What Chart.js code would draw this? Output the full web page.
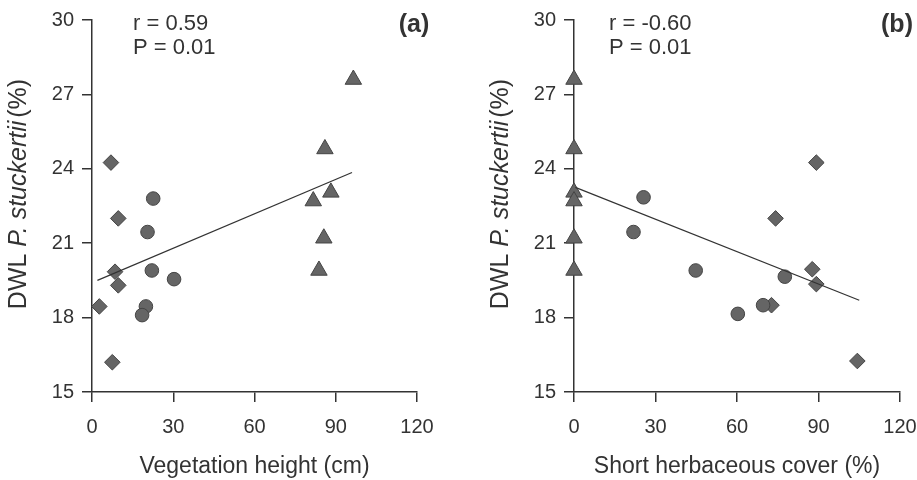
<!DOCTYPE html>
<html>
<head>
<meta charset="utf-8">
<script src="https://cdn.jsdelivr.net/npm/chart.js@4.4.1/dist/chart.umd.min.js"></script>
<style>
  html, body { margin: 0; padding: 0; background: #fff; overflow: hidden; }
  .panel { position: absolute; top: 0; height: 480px; }
  #pa { left: 0; width: 460px; }
  #pb { left: 482px; width: 435px; }
</style>
</head>
<body>
<div class="panel" id="pa"><canvas id="chart-a"></canvas></div>
<div class="panel" id="pb"><canvas id="chart-b"></canvas></div>
<script>
// axis ticks
const xTicks = [0, 30, 60, 90, 120];
const yTicks = [15, 18, 21, 24, 27, 30];

// DWL P. stuckertii (%) per site, same for both panels
const triY     = [27.6, 24.8, 23.05, 22.7, 21.2, 19.9];
const circleY  = [22.8, 21.45, 19.9, 19.55, 18.45, 18.1];
const diamondY = [24.25, 22.0, 19.85, 19.3, 18.45, 16.2];

// (a) vegetation height (cm)
const aTriX     = [96.5, 86, 88.2, 81.7, 85.6, 83.8];
const aCircleX  = [22.6, 20.5, 22.1, 30.3, 19.9, 18.5];
const aDiamondX = [7, 9.7, 8.5, 9.7, 2.7, 7.5];
const aFitX = [2, 96];
const aFitY = [19.5, 23.85];

// (b) short herbaceous cover (%)
const bTriX     = [0, 0, 0, 0, 0, 0];
const bCircleX  = [25.6, 21.9, 77.6, 44.8, 69.6, 60.3];
const bCircleY  = [22.85, 21.45, 19.65, 19.9, 18.5, 18.15];
const bDiamondX = [89.2, 74.2, 87.7, 89.2, 72.7, 104.3];
const bDiamondY = [24.25, 22.0, 19.95, 19.35, 18.5, 16.25];
const bFitX = [0.5, 105];
const bFitY = [23.25, 18.7];

const INK = '#333333';
const FILL = '#656565';
const EDGE = '#444444';
const FONT = "'Liberation Sans', Arial, sans-serif";

const pts = (xs, ys) => xs.map((x, i) => ({ x: x, y: ys[i] }));

const panelText = {
    id: 'panelText',
    afterDraw(chart, args, o) {
        const ctx = chart.ctx;
        const a = chart.chartArea;
        ctx.save();
        ctx.fillStyle = INK;
        ctx.textBaseline = 'middle';

        // stats
        ctx.textAlign = 'left';
        ctx.font = '22px ' + FONT;
        ctx.fillText(o.r, a.left + o.statsX, 24);
        ctx.fillText(o.p, a.left + o.statsX, 48);

        // panel tag
        ctx.textAlign = 'center';
        ctx.font = 'bold 25px ' + FONT;
        ctx.fillText(o.tag, a.right - 3, 25);

        // y label with italic species name
        const parts = [
            ['DWL ', '25px ' + FONT],
            ['P. stuckertii', 'italic 25px ' + FONT],
            ['(%)', '25px ' + FONT]
        ];
        let total = 0;
        parts.forEach(p => { ctx.font = p[1]; total += ctx.measureText(p[0]).width; });
        total += 3;
        ctx.translate(a.left - 73, 194);
        ctx.rotate(-Math.PI / 2);
        ctx.textAlign = 'left';
        let cx = -total / 2;
        parts.forEach((p, i) => {
            ctx.font = p[1];
            ctx.fillText(p[0], cx, 0);
            cx += ctx.measureText(p[0]).width + (i === 1 ? 3 : 0);
        });
        ctx.restore();
    }
};

function makePanel(id, xTitle, fitX, fitY, triX, cirX, cirY, diaX, diaY, text, padRight) {
    const marker = {
        backgroundColor: FILL, borderColor: EDGE, borderWidth: 1,
        pointHoverRadius: 0, clip: false
    };
    return new Chart(document.getElementById(id), {
        type: 'scatter',
        data: {
            datasets: [
                {
                    type: 'line', data: pts(fitX, fitY), showLine: true,
                    borderColor: INK, borderWidth: 1.2, pointRadius: 0, clip: false
                },
                Object.assign({ data: pts(triX, triY), pointStyle: 'triangle', pointRadius: 9.5 }, marker),
                Object.assign({ data: pts(cirX, cirY), pointStyle: 'circle', pointRadius: 6.8 }, marker),
                Object.assign({ data: pts(diaX, diaY), pointStyle: 'rectRot', pointRadius: 7.8 }, marker)
            ]
        },
        options: {
            responsive: true,
            maintainAspectRatio: false,
            animation: false,
            events: [],
            layout: { padding: { top: 20, right: padRight, bottom: 0, left: 0 } },
            plugins: {
                legend: { display: false },
                tooltip: { enabled: false },
                panelText: text
            },
            scales: {
                x: {
                    type: 'linear', min: 0, max: 120, z: 1,
                    afterBuildTicks: s => { s.ticks = xTicks.map(v => ({ value: v })); },
                    afterFit: s => { s.height = 88; s.paddingLeft = 0; s.paddingRight = 0; },
                    grid: { drawOnChartArea: false, tickLength: 10, color: INK, lineWidth: 1.5 },
                    border: { color: INK, width: 1.5 },
                    ticks: { color: INK, padding: 13, font: { family: FONT, size: 20 } },
                    title: {
                        display: true, text: xTitle, color: INK,
                        padding: { top: 0, bottom: 0 },
                        font: { family: FONT, size: 23 }
                    }
                },
                y: {
                    type: 'linear', min: 15, max: 30, z: 1,
                    afterBuildTicks: s => { s.ticks = yTicks.map(v => ({ value: v })); },
                    afterFit: s => { s.width = 92; s.paddingTop = 0; s.paddingBottom = 0; },
                    grid: { drawOnChartArea: false, tickLength: 10, color: INK, lineWidth: 1.5 },
                    border: { color: INK, width: 1.5 },
                    ticks: { color: INK, padding: 8, font: { family: FONT, size: 20 } }
                }
            }
        },
        plugins: [panelText]
    });
}

makePanel('chart-a', 'Vegetation height (cm)', aFitX, aFitY, aTriX, aCircleX, circleY, aDiamondX, diamondY,
    { r: 'r = 0.59', p: 'P = 0.01', tag: '(a)', statsX: 41 }, 43);
makePanel('chart-b', 'Short herbaceous cover (%)', bFitX, bFitY, bTriX, bCircleX, bCircleY, bDiamondX, bDiamondY,
    { r: 'r = -0.60', p: 'P = 0.01', tag: '(b)', statsX: 35 }, 17);
</script>
</body>
</html>
